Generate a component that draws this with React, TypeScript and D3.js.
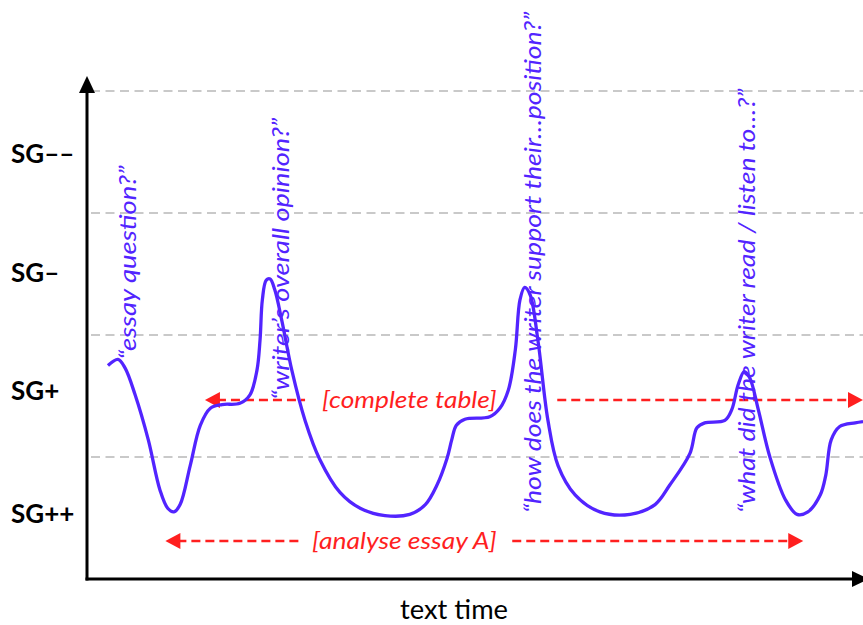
import React, { useEffect, useRef } from "react";
import * as d3 from "d3";

// text time (0-100) and SG level (0 = SG++ floor, 4 = top)
const timeValues = [
  2.7, 4.0, 4.9, 6.2, 7.9, 9.4, 10.4, 11.2, 12.0, 13.3, 14.6, 15.9, 17.4, 19.7, 21.0, 21.9,
  22.3, 22.6, 23.1, 23.6, 24.2, 25.1, 26.4, 28.1, 30.0, 32.6, 35.2, 38.4, 41.6, 43.6, 45.1,
  46.4, 47.0, 47.6, 48.7, 51.9, 53.2, 54.3, 55.2, 55.8, 56.4, 57.1, 58.1, 59.4, 60.7, 62.9,
  66.1, 70.0, 73.2, 75.1, 77.7, 78.6, 79.6, 82.2, 83.1, 83.9, 84.7, 85.4, 86.5, 88.0, 90.0,
  91.5, 92.9, 94.5, 95.2, 95.9, 97.0, 99.0, 100,
];
const sgValues = [
  1.75, 1.8, 1.73, 1.51, 1.14, 0.73, 0.58, 0.55, 0.61, 0.93, 1.26, 1.4, 1.43, 1.44, 1.51, 1.71,
  1.96, 2.29, 2.45, 2.46, 2.37, 2.12, 1.71, 1.3, 0.98, 0.71, 0.58, 0.52, 0.53, 0.61, 0.77,
  0.99, 1.14, 1.26, 1.31, 1.33, 1.4, 1.55, 1.88, 2.29, 2.39, 2.33, 1.96, 1.3, 0.93, 0.69,
  0.55, 0.53, 0.61, 0.77, 1.03, 1.24, 1.28, 1.3, 1.39, 1.59, 1.7, 1.65, 1.39, 1.0, 0.65,
  0.53, 0.55, 0.69, 0.85, 1.14, 1.25, 1.28, 1.29,
];

const sgLabels = ["SG++", "SG+", "SG–", "SG––"];
const sgLabelLevels = [0.54, 1.55, 2.52, 3.49];
const gridLevels = [1, 2, 3, 4];

// vertical prompts
const promptTexts = [
  "“essay question?”",
  "“writer’s overall opinion?”",
  "“how does the writer support their…position?”",
  "“what did the writer read / listen to…?”",
];
const promptTimes = [5.3, 25.0, 57.5, 85.1];
const promptBottoms = [1.8, 1.47, 0.54, 0.54];
const promptTops = [3.39, 3.78, 4.65, 4.02];

// red dashed activity arrows
const activityLabels = ["[complete table]", "[analyse essay A]"];
const activityLevels = [1.467, 0.311];
const activityStarts = [15.2, 10.1];
const activityEnds = [100, 92.3];
const activityTextFrom = [30.3, 29.0];
const activityTextTo = [52.8, 52.8];
const activityGapFrom = [28.1, 27.4];
const activityGapTo = [60.6, 54.8];

const width = 863;
const height = 625;
const margin = { top: 91, right: 0, bottom: 46, left: 87 };
const blue = "#5224ff";
const red = "#ff1f1f";
const font = "Lato, 'Open Sans', sans-serif";

const App: React.FC = () => {
  const svgRef = useRef<SVGSVGElement | null>(null);

  useEffect(() => {
    if (!svgRef.current) return;
    const svg = d3.select(svgRef.current);
    svg.selectAll("*").remove();

    const x = d3.scaleLinear().domain([0, 100]).range([margin.left, width - margin.right]);
    const y = d3.scaleLinear().domain([0, 4]).range([height - margin.bottom, margin.top]);
    const x0 = x(0);
    const y0 = y(0);

    // Grid
    svg
      .append("g")
      .selectAll("line")
      .data(gridLevels)
      .enter()
      .append("line")
      .attr("x1", x0 + 4)
      .attr("x2", width)
      .attr("y1", (d) => y(d))
      .attr("y2", (d) => y(d))
      .attr("stroke", "#c9c9c9")
      .attr("stroke-width", 1.8)
      .attr("stroke-dasharray", "9 5.5");

    // Axes with arrow heads
    svg
      .append("line")
      .attr("x1", x0)
      .attr("x2", x0)
      .attr("y1", y0 + 1.5)
      .attr("y2", 90)
      .attr("stroke", "#000")
      .attr("stroke-width", 3);
    svg
      .append("path")
      .attr("d", `M${x0 - 8},${93} L${x0},${76} L${x0 + 8},${93} Z`)
      .attr("fill", "#000");
    svg
      .append("line")
      .attr("x1", x0 - 1.5)
      .attr("x2", 852)
      .attr("y1", y0)
      .attr("y2", y0)
      .attr("stroke", "#000")
      .attr("stroke-width", 3);
    svg
      .append("path")
      .attr("d", `M852,${y0 - 8} L869,${y0} L852,${y0 + 8} Z`)
      .attr("fill", "#000");

    // SG labels
    svg
      .append("g")
      .selectAll("text")
      .data(sgLabels)
      .enter()
      .append("text")
      .attr("x", 11)
      .attr("y", (_, i) => y(sgLabelLevels[i]))
      .attr("dominant-baseline", "central")
      .attr("font-family", font)
      .attr("font-weight", 700)
      .attr("font-size", 26)
      .attr("fill", "#000")
      .text((d) => d);

    // x axis title
    svg
      .append("text")
      .attr("x", 454)
      .attr("y", 619)
      .attr("text-anchor", "middle")
      .attr("font-family", font)
      .attr("font-size", 26)
      .attr("fill", "#000")
      .attr("textLength", 108)
      .attr("lengthAdjust", "spacingAndGlyphs")
      .text("text time");

    // Red dashed arrows
    const acts = activityLabels.map((label, i) => ({ label, i }));
    const ag = svg.append("g");
    acts.forEach(({ label, i }) => {
      const yy = y(activityLevels[i]);
      const xs = x(activityStarts[i]);
      const xe = x(activityEnds[i]);
      const seg = (a: number, b: number) =>
        ag
          .append("line")
          .attr("x1", a)
          .attr("x2", b)
          .attr("y1", yy)
          .attr("y2", yy)
          .attr("stroke", red)
          .attr("stroke-width", 2.4)
          .attr("stroke-dasharray", "9 5");
      seg(xs + 12, x(activityGapFrom[i]));
      seg(x(activityGapTo[i]), xe - 12);
      ag.append("path")
        .attr("d", `M${xs},${yy} L${xs + 15},${yy - 8} L${xs + 15},${yy + 8} Z`)
        .attr("fill", red);
      ag.append("path")
        .attr("d", `M${xe},${yy} L${xe - 15},${yy - 8} L${xe - 15},${yy + 8} Z`)
        .attr("fill", red);
      const tx0 = x(activityTextFrom[i]);
      const tx1 = x(activityTextTo[i]);
      ag.append("text")
        .attr("x", tx0)
        .attr("y", yy)
        .attr("dy", "0.33em")
        .attr("font-family", font)
        .attr("font-style", "italic")
        .attr("font-size", 24)
        .attr("fill", red)
        .attr("textLength", tx1 - tx0)
        .attr("lengthAdjust", "spacingAndGlyphs")
        .text(label);
    });

    // Curve
    const pts = timeValues.map((t, i) => [t, sgValues[i]] as [number, number]);
    const line = d3
      .line<[number, number]>()
      .x((d) => x(d[0]))
      .y((d) => y(d[1]))
      .curve(d3.curveCatmullRom.alpha(0.5));
    svg
      .append("path")
      .attr("d", line(pts) || "")
      .attr("fill", "none")
      .attr("stroke", blue)
      .attr("stroke-width", 3.3)
      .attr("stroke-linejoin", "round");

    // Vertical prompts
    const pg = svg.append("g");
    promptTexts.forEach((txt, i) => {
      const px = x(promptTimes[i]);
      const pb = y(promptBottoms[i]);
      const pt = y(promptTops[i]);
      pg.append("text")
        .attr("transform", `translate(${px},${pb}) rotate(-90)`)
        .attr("x", 0)
        .attr("y", 0)
        .attr("dy", "0.33em")
        .attr("font-family", font)
        .attr("font-style", "italic")
        .attr("font-size", 24)
        .attr("fill", blue)
        .attr("textLength", pb - pt)
        .attr("lengthAdjust", "spacingAndGlyphs")
        .text(txt);
    });
  }, []);

  return (
    <svg
      ref={svgRef}
      width={width}
      height={height}
      style={{ position: "absolute", left: 0, top: 0, background: "#fff", display: "block" }}
    />
  );
};

export default App;
